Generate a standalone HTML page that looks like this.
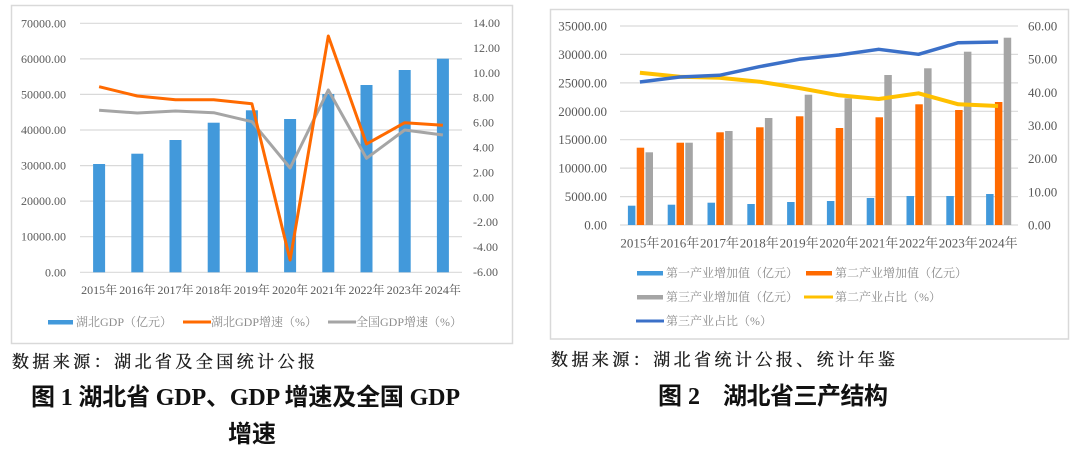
<!DOCTYPE html>
<html><head><meta charset="utf-8"><style>
html,body{margin:0;padding:0;background:#fff;}
svg{display:block;}
.ax{font-family:"Liberation Serif","Noto Serif CJK SC",serif;font-size:12px;fill:#595959;}
.ax2{font-family:"Liberation Serif","Noto Serif CJK SC",serif;font-size:13px;fill:#595959;}
.lg{font-family:"Liberation Serif","Noto Serif CJK SC",serif;font-size:12px;fill:#8c8c8c;}
.src{font-family:"Liberation Serif","Noto Serif CJK SC",serif;font-size:17px;fill:#1a1a1a;stroke:#1a1a1a;stroke-width:0.3;}
.tt{font-family:"Liberation Serif","Noto Sans CJK SC",sans-serif;font-size:24px;font-weight:bold;fill:#111;}
</style></head><body>
<svg width="1080" height="456" viewBox="0 0 1080 456" xmlns="http://www.w3.org/2000/svg">
<!-- Chart 1 frame -->
<rect x="11.5" y="5.5" width="501" height="338" fill="#fff" stroke="#d9d9d9" stroke-width="1.5"/>
<g stroke="#d9d9d9" stroke-width="1.2">
<line x1="80" y1="23.3" x2="462" y2="23.3"/>
<line x1="80" y1="58.9" x2="462" y2="58.9"/>
<line x1="80" y1="94.4" x2="462" y2="94.4"/>
<line x1="80" y1="130" x2="462" y2="130"/>
<line x1="80" y1="165.6" x2="462" y2="165.6"/>
<line x1="80" y1="201.1" x2="462" y2="201.1"/>
<line x1="80" y1="236.7" x2="462" y2="236.7"/>
<line x1="80" y1="272.3" x2="462" y2="272.3"/>
</g>
<g class="ax" text-anchor="end" dominant-baseline="central">
<text x="66" y="23.3">70000.00</text>
<text x="66" y="58.9">60000.00</text>
<text x="66" y="94.4">50000.00</text>
<text x="66" y="130">40000.00</text>
<text x="66" y="165.6">30000.00</text>
<text x="66" y="201.1">20000.00</text>
<text x="66" y="236.7">10000.00</text>
<text x="66" y="272.3">0.00</text>
</g>
<g class="ax" text-anchor="start" dominant-baseline="central">
<text x="473" y="23">14.00</text>
<text x="473" y="47.9">12.00</text>
<text x="473" y="72.8">10.00</text>
<text x="473" y="97.7">8.00</text>
<text x="473" y="122.6">6.00</text>
<text x="473" y="147.5">4.00</text>
<text x="473" y="172.4">2.00</text>
<text x="473" y="197.3">0.00</text>
<text x="473" y="222.2">-2.00</text>
<text x="473" y="247.1">-4.00</text>
<text x="473" y="272">-6.00</text>
</g>
<g fill="#4299db">
<rect x="93.1" y="164" width="12" height="108.3"/>
<rect x="131.3" y="153.7" width="12" height="118.6"/>
<rect x="169.5" y="140" width="12" height="132.3"/>
<rect x="207.7" y="122.7" width="12" height="149.6"/>
<rect x="245.9" y="110.3" width="12" height="162"/>
<rect x="284.1" y="119" width="12" height="153.3"/>
<rect x="322.3" y="94" width="12" height="178.3"/>
<rect x="360.5" y="85" width="12" height="187.3"/>
<rect x="398.7" y="70" width="12" height="202.3"/>
<rect x="436.9" y="58.7" width="12" height="213.6"/>
</g>
<polyline fill="none" stroke="#a5a5a5" stroke-width="3" stroke-linejoin="round" points="99.1,110.3 137.3,113 175.5,111 213.7,112.7 251.9,121.7 290.1,168 328.3,90 366.5,158.3 404.7,130 442.9,135"/>
<polyline fill="none" stroke="#ff6a00" stroke-width="3" stroke-linejoin="round" points="99.1,86.7 137.3,96 175.5,99.7 213.7,99.7 251.9,103.7 290.1,260 328.3,36 366.5,144 404.7,122.7 442.9,125.3"/>
<g class="ax" text-anchor="middle" dominant-baseline="central">
<text x="99.1" y="290">2015年</text>
<text x="137.3" y="290">2016年</text>
<text x="175.5" y="290">2017年</text>
<text x="213.7" y="290">2018年</text>
<text x="251.9" y="290">2019年</text>
<text x="290.1" y="290">2020年</text>
<text x="328.3" y="290">2021年</text>
<text x="366.5" y="290">2022年</text>
<text x="404.7" y="290">2023年</text>
<text x="442.9" y="290">2024年</text>
</g>
<rect x="48" y="320" width="25" height="4.5" fill="#4299db"/>
<line x1="183" y1="322" x2="211" y2="322" stroke="#ff6a00" stroke-width="3"/>
<line x1="328" y1="322" x2="356" y2="322" stroke="#a5a5a5" stroke-width="3"/>
<g class="lg" dominant-baseline="central">
<text x="76" y="322">湖北GDP（亿元）</text>
<text x="211" y="322">湖北GDP增速（%）</text>
<text x="356" y="322">全国GDP增速（%）</text>
</g>
<text class="src" x="12" y="362" dominant-baseline="central" textLength="303" lengthAdjust="spacing">数据来源：湖北省及全国统计公报</text>
<text class="tt" x="31" y="398" dominant-baseline="central" textLength="429" lengthAdjust="spacing">图 1  湖北省 GDP、GDP 增速及全国 GDP</text>
<text class="tt" x="252" y="435" dominant-baseline="central" text-anchor="middle">增速</text>

<!-- Chart 2 frame -->
<rect x="550.5" y="9.5" width="518" height="329.5" fill="#fff" stroke="#d9d9d9" stroke-width="1.5"/>
<g stroke="#d9d9d9" stroke-width="1.2">
<line x1="620" y1="26" x2="1018" y2="26"/>
<line x1="620" y1="54.4" x2="1018" y2="54.4"/>
<line x1="620" y1="82.9" x2="1018" y2="82.9"/>
<line x1="620" y1="111.3" x2="1018" y2="111.3"/>
<line x1="620" y1="139.7" x2="1018" y2="139.7"/>
<line x1="620" y1="168.1" x2="1018" y2="168.1"/>
<line x1="620" y1="196.6" x2="1018" y2="196.6"/>
<line x1="620" y1="225" x2="1018" y2="225"/>
</g>
<g class="ax2" text-anchor="end" dominant-baseline="central">
<text x="607" y="26">35000.00</text>
<text x="607" y="54.4">30000.00</text>
<text x="607" y="82.9">25000.00</text>
<text x="607" y="111.3">20000.00</text>
<text x="607" y="139.7">15000.00</text>
<text x="607" y="168.1">10000.00</text>
<text x="607" y="196.6">5000.00</text>
<text x="607" y="225">0.00</text>
</g>
<g class="ax2" text-anchor="start" dominant-baseline="central">
<text x="1028" y="26">60.00</text>
<text x="1028" y="59.2">50.00</text>
<text x="1028" y="92.3">40.00</text>
<text x="1028" y="125.5">30.00</text>
<text x="1028" y="158.7">20.00</text>
<text x="1028" y="191.8">10.00</text>
<text x="1028" y="225">0.00</text>
</g>
<g fill="#4299db">
<rect x="627.9" y="205.7" width="7.5" height="19.3"/>
<rect x="667.7" y="204.7" width="7.5" height="20.3"/>
<rect x="707.5" y="202.7" width="7.5" height="22.3"/>
<rect x="747.3" y="204" width="7.5" height="21"/>
<rect x="787.1" y="202" width="7.5" height="23"/>
<rect x="826.9" y="201" width="7.5" height="24"/>
<rect x="866.7" y="198" width="7.5" height="27"/>
<rect x="906.5" y="196" width="7.5" height="29"/>
<rect x="946.3" y="196" width="7.5" height="29"/>
<rect x="986.1" y="194" width="7.5" height="31"/>
</g>
<g fill="#ff6a00">
<rect x="636.7" y="147.7" width="7.5" height="77.3"/>
<rect x="676.5" y="142.7" width="7.5" height="82.3"/>
<rect x="716.3" y="132.3" width="7.5" height="92.7"/>
<rect x="756.1" y="127.3" width="7.5" height="97.7"/>
<rect x="795.9" y="116.3" width="7.5" height="108.7"/>
<rect x="835.7" y="128" width="7.5" height="97"/>
<rect x="875.5" y="117.3" width="7.5" height="107.7"/>
<rect x="915.3" y="104.3" width="7.5" height="120.7"/>
<rect x="955.1" y="110" width="7.5" height="115"/>
<rect x="994.9" y="102" width="7.5" height="123"/>
</g>
<g fill="#a5a5a5">
<rect x="645.5" y="152.3" width="7.5" height="72.7"/>
<rect x="685.3" y="142.7" width="7.5" height="82.3"/>
<rect x="725.1" y="131" width="7.5" height="94"/>
<rect x="764.9" y="118" width="7.5" height="107"/>
<rect x="804.7" y="94.7" width="7.5" height="130.3"/>
<rect x="844.5" y="98.3" width="7.5" height="126.7"/>
<rect x="884.3" y="75" width="7.5" height="150"/>
<rect x="924.1" y="68.3" width="7.5" height="156.7"/>
<rect x="963.9" y="51.7" width="7.5" height="173.3"/>
<rect x="1003.7" y="37.7" width="7.5" height="187.3"/>
</g>
<polyline fill="none" stroke="#ffc000" stroke-width="4" stroke-linejoin="round" points="639.9,72.7 679.7,76.7 719.5,77.7 759.3,81.7 799.1,88 838.9,95.3 878.7,99 918.5,93.3 958.3,104.3 998.1,106"/>
<polyline fill="none" stroke="#3b70c8" stroke-width="3.5" stroke-linejoin="round" points="639.9,82 679.7,77 719.5,75.3 759.3,66.7 799.1,59.3 838.9,55 878.7,49.3 918.5,54.3 958.3,42.7 998.1,42"/>
<g class="ax2" text-anchor="middle" dominant-baseline="central">
<text x="639.9" y="243">2015年</text>
<text x="679.7" y="243">2016年</text>
<text x="719.5" y="243">2017年</text>
<text x="759.3" y="243">2018年</text>
<text x="799.1" y="243">2019年</text>
<text x="838.9" y="243">2020年</text>
<text x="878.7" y="243">2021年</text>
<text x="918.5" y="243">2022年</text>
<text x="958.3" y="243">2023年</text>
<text x="998.1" y="243">2024年</text>
</g>
<rect x="637" y="271" width="26" height="4.5" fill="#4299db"/>
<rect x="806" y="271" width="26" height="4.5" fill="#ff6a00"/>
<rect x="637" y="295" width="26" height="4.5" fill="#a5a5a5"/>
<line x1="804" y1="297" x2="833" y2="297" stroke="#ffc000" stroke-width="3"/>
<line x1="636" y1="321" x2="664" y2="321" stroke="#3b70c8" stroke-width="3"/>
<g class="lg" dominant-baseline="central">
<text x="666" y="273">第一产业增加值（亿元）</text>
<text x="835" y="273">第二产业增加值（亿元）</text>
<text x="666" y="297">第三产业增加值（亿元）</text>
<text x="835" y="297">第二产业占比（%）</text>
<text x="666" y="321">第三产业占比（%）</text>
</g>
<text class="src" x="551" y="360" dominant-baseline="central" textLength="344" lengthAdjust="spacing">数据来源：湖北省统计公报、统计年鉴</text>
<text class="tt" x="658" y="397" dominant-baseline="central">图 2</text>
<text class="tt" x="723" y="397" dominant-baseline="central" textLength="165" lengthAdjust="spacing">湖北省三产结构</text>
</svg>
</body></html>
